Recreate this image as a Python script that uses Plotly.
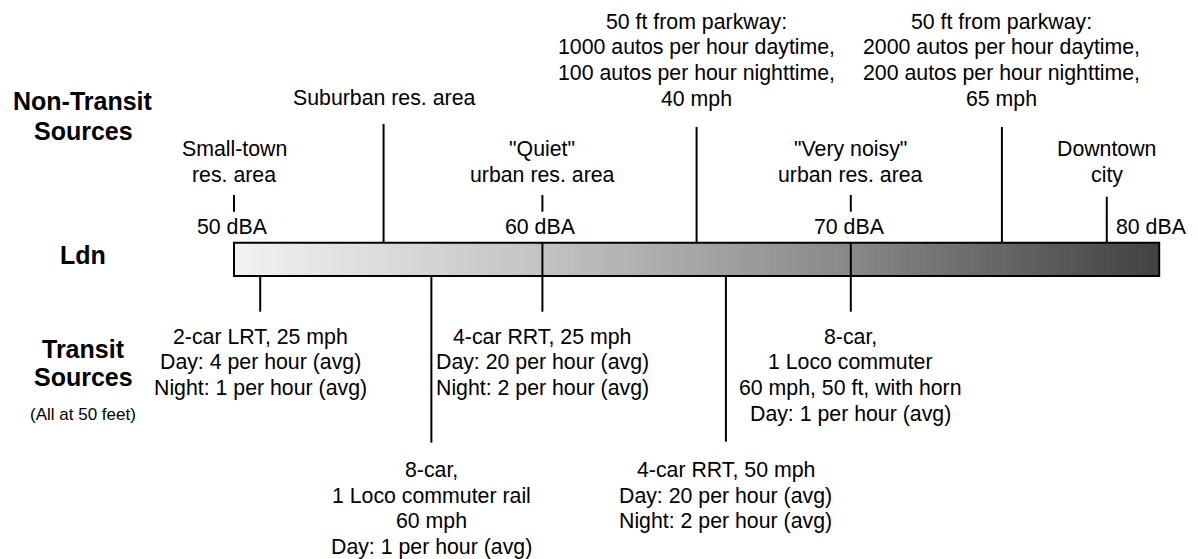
import numpy as np
import plotly.graph_objects as go

# ---------------- data ----------------
scale_ticks = [50, 60, 70, 80]
scale_tick_labels = ["50 dBA", "60 dBA", "70 dBA", "80 dBA"]
scale_label_at = [49.95, 59.95, 69.95, 79.75]
bar_min, bar_max = 50, 80

non_transit_ldn = [50, 54.85, 60, 65, 70, 74.9, 78.3]
non_transit_labels = [
    ["Small-town", "res. area"],
    ["Suburban res. area"],
    ['"Quiet"', "urban res. area"],
    ["50 ft from parkway:", "1000 autos per hour daytime,", "100 autos per hour nighttime,", "40 mph"],
    ['"Very noisy"', "urban res. area"],
    ["50 ft from parkway:", "2000 autos per hour daytime,", "200 autos per hour nighttime,", "65 mph"],
    ["Downtown", "city"],
]

transit_ldn = [50.85, 56.4, 60, 65.95, 70]
transit_labels = [
    ["2-car LRT, 25 mph", "Day: 4 per hour (avg)", "Night: 1 per hour (avg)"],
    ["8-car,", "1 Loco commuter rail", "60 mph", "Day: 1 per hour (avg)"],
    ["4-car RRT, 25 mph", "Day: 20 per hour (avg)", "Night: 2 per hour (avg)"],
    ["4-car RRT, 50 mph", "Day: 20 per hour (avg)", "Night: 2 per hour (avg)"],
    ["8-car,", "1 Loco commuter", "60 mph, 50 ft, with horn", "Day: 1 per hour (avg)"],
]

# ---------------- layout (pixel-based y axis) ----------------
PAGE_W, PAGE_H = 1198, 559
OFF = 8  # page body margin in which the figure sits
W, H = PAGE_W - OFF, PAGE_H - OFF
PX_PER_DBA = 30.84
X0 = 50 - (234 - OFF) / PX_PER_DBA
X1 = X0 + W / PX_PER_DBA

BAR_TOP, BAR_BOT = 242.7, 276.0
FONT = "Liberation Sans, Arial, sans-serif"
FS = 21.3
STEP = 25.6
LINE_W = 2
BLACK = "#000000"

# non-transit: (first text row y, line top, line bottom)
nt_style = [
    (149.3, 195.0, 211.7),
    (98.3, 124.0, BAR_TOP),
    (149.3, 195.0, 211.7),
    (21.7, 127.0, BAR_TOP),
    (149.3, 195.0, 211.7),
    (21.7, 127.0, BAR_TOP),
    (149.3, 196.7, BAR_TOP),
]
# transit: (first text row y, line bottom)
tr_style = [
    (336.7, 311.7),
    (470.0, 442.7),
    (336.7, 311.7),
    (470.0, 441.7),
    (336.7, 311.7),
]

fig = go.Figure()

# gradient bar
edges = np.linspace(bar_min, bar_max, 151)
centers = (edges[:-1] + edges[1:]) / 2
fig.add_trace(go.Heatmap(
    x=edges, y=[BAR_TOP, BAR_BOT], z=[centers],
    zmin=bar_min, zmax=bar_max,
    colorscale=[[0, "rgb(242,242,242)"], [0.35, "rgb(192,192,192)"],
                [0.67, "rgb(135,135,135)"], [1, "rgb(66,66,66)"]],
    showscale=False, hoverinfo="skip",
))

shapes = []
annotations = []

# bar outline
shapes.append(dict(type="rect", xref="x", yref="y", x0=bar_min, x1=bar_max,
                   y0=BAR_TOP, y1=BAR_BOT, line=dict(color=BLACK, width=LINE_W),
                   fillcolor="rgba(0,0,0,0)", layer="above"))

# scale ticks & labels
for v, lab, lx in zip(scale_ticks, scale_tick_labels, scale_label_at):
    annotations.append(dict(x=lx, y=226.7, xref="x", yref="y", text=lab, showarrow=False,
                            xanchor="center", yanchor="middle",
                            font=dict(family=FONT, size=FS, color=BLACK)))
    if bar_min < v < bar_max:
        shapes.append(dict(type="line", xref="x", yref="y", x0=v, x1=v,
                           y0=BAR_TOP, y1=BAR_BOT, line=dict(color=BLACK, width=LINE_W),
                           layer="above"))

# non-transit sources
for v, lines, (ty, l0, l1) in zip(non_transit_ldn, non_transit_labels, nt_style):
    shapes.append(dict(type="line", xref="x", yref="y", x0=v, x1=v, y0=l0, y1=l1,
                       line=dict(color=BLACK, width=LINE_W)))
    for i, t in enumerate(lines):
        annotations.append(dict(x=v, y=ty + i * STEP, xref="x", yref="y", text=t,
                                showarrow=False, xanchor="center", yanchor="middle",
                                font=dict(family=FONT, size=FS, color=BLACK)))

# transit sources
for v, lines, (ty, l1) in zip(transit_ldn, transit_labels, tr_style):
    shapes.append(dict(type="line", xref="x", yref="y", x0=v, x1=v, y0=BAR_BOT, y1=l1,
                       line=dict(color=BLACK, width=LINE_W)))
    for i, t in enumerate(lines):
        annotations.append(dict(x=v, y=ty + i * STEP, xref="x", yref="y", text=t,
                                showarrow=False, xanchor="center", yanchor="middle",
                                font=dict(family=FONT, size=FS, color=BLACK)))

# row headings
HX = (83.3 - OFF) / W
for txt, y in [("Non-Transit", 101.0), ("Sources", 130.7), ("Ldn", 255.0),
               ("Transit", 349.0), ("Sources", 377.3)]:
    annotations.append(dict(x=HX, y=y, xref="paper", yref="y", text="<b>" + txt + "</b>",
                            showarrow=False, xanchor="center", yanchor="middle",
                            font=dict(family=FONT, size=25, color=BLACK)))
annotations.append(dict(x=HX, y=414.0, xref="paper", yref="y", text="(All at 50 feet)",
                        showarrow=False, xanchor="center", yanchor="middle",
                        font=dict(family=FONT, size=17, color=BLACK)))

fig.update_layout(
    width=W, height=H,
    margin=dict(l=0, r=0, t=0, b=0),
    paper_bgcolor="white", plot_bgcolor="white",
    xaxis=dict(range=[X0, X1], visible=False, fixedrange=True),
    yaxis=dict(range=[PAGE_H, OFF], visible=False, fixedrange=True),
    shapes=shapes, annotations=annotations,
    showlegend=False,
)

fig.write_html("out.html")
